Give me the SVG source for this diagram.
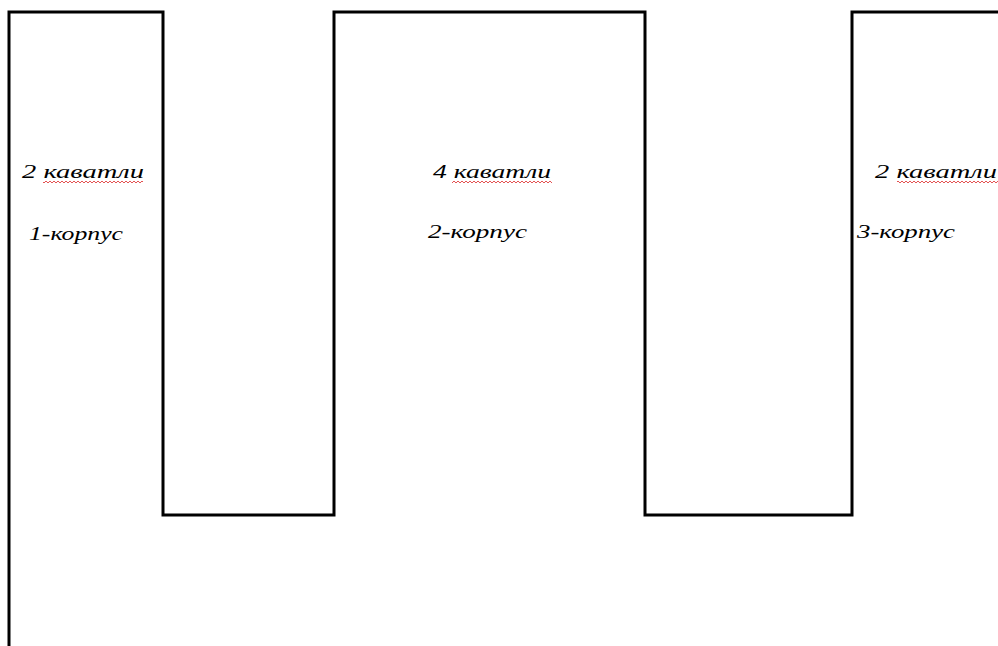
<svg xmlns="http://www.w3.org/2000/svg" width="998" height="646" viewBox="0 0 998 646">
<defs>
<style>
.wall{fill:none;stroke:#000;stroke-width:3;stroke-linejoin:miter}
.lbl{font-family:"Liberation Serif","DejaVu Serif",serif;font-style:italic;font-size:19px;fill:#000}
</style>
<pattern id="wave" width="4" height="4" patternUnits="userSpaceOnUse">
<path d="M0,3 L2,1 L4,3" fill="none" stroke="#e04040" stroke-width="0.9"/>
</pattern>
</defs>
<rect width="998" height="646" fill="#fff"/>
<g id="connectors">
<path class="wall" d="M9,646 V12 H163 V515 H334 V12 H645 V515 H852 V12 H998"/>
</g>
<g id="block1">
<text class="lbl" x="22" y="178" textLength="122" lengthAdjust="spacingAndGlyphs">2 каватли</text>
<rect x="43" y="180" width="100" height="4" fill="url(#wave)"/>
<text class="lbl" x="29" y="240" textLength="94" lengthAdjust="spacingAndGlyphs">1-корпус</text>
</g>
<g id="block2">
<text class="lbl" x="433" y="178" textLength="118" lengthAdjust="spacingAndGlyphs">4 каватли</text>
<rect x="452" y="180" width="100" height="4" fill="url(#wave)"/>
<text class="lbl" x="428" y="238" textLength="99" lengthAdjust="spacingAndGlyphs">2-корпус</text>
</g>
<g id="block3">
<text class="lbl" x="875" y="178" textLength="122" lengthAdjust="spacingAndGlyphs">2 каватли</text>
<rect x="897" y="180" width="101" height="4" fill="url(#wave)"/>
<text class="lbl" x="857" y="238" textLength="98" lengthAdjust="spacingAndGlyphs">3-корпус</text>
</g>
</svg>
